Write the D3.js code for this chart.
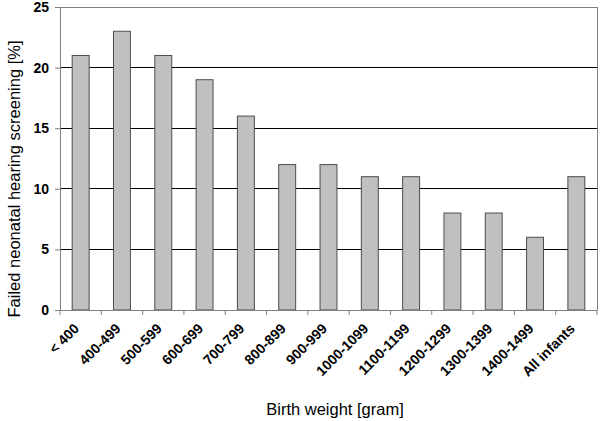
<!DOCTYPE html>
<html><head><meta charset="utf-8">
<script src="https://cdn.jsdelivr.net/npm/d3@7"></script>
<style>body{margin:0;background:#fff}svg{display:block}</style>
</head><body>
<svg id="c" width="600" height="421"></svg>
<script>
const categories = ["< 400","400-499","500-599","600-699","700-799","800-899","900-999","1000-1099","1100-1199","1200-1299","1300-1399","1400-1499","All infants"];
const values = [21,23,21,19,16,12,12,11,11,8,8,6,11];
const yTicks = [0,5,10,15,20,25];

const svg = d3.select("#c");
const L = 60, R = 597, T = 7, B = 310;
const x = d3.scaleBand().domain(categories).range([L, R]).paddingInner(0.59).paddingOuter(0.295);
const xc = d3.scaleBand().domain(categories).range([L, R]);
const y = d3.scaleLinear().domain([0,25]).range([B, T]);
const font = "Arial, 'Liberation Sans', sans-serif";

// gridlines
svg.append("g").selectAll("line").data(yTicks.filter(d=>d>0)).join("line")
  .attr("x1", L).attr("x2", R).attr("y1", d=>y(d)).attr("y2", d=>y(d))
  .attr("stroke", d=> d===25 ? "#808080" : "#000").attr("stroke-width", 1).attr("shape-rendering","crispEdges");
// right border
svg.append("line").attr("x1",R).attr("x2",R).attr("y1",T).attr("y2",B).attr("stroke","#808080").attr("shape-rendering","crispEdges");

// bars
svg.append("g").selectAll("rect").data(values).join("rect")
  .attr("x", (d,i)=>x(categories[i])).attr("width", x.bandwidth())
  .attr("y", d=>y(d)).attr("height", d=>B - y(d))
  .attr("fill", "#c0c0c0").attr("stroke", "#4d4d4d").attr("stroke-width", 1);

// y axis
const ya = svg.append("g").attr("transform", `translate(${L},0)`)
  .call(d3.axisLeft(y).tickValues(yTicks).tickSize(5).tickPadding(6));
ya.select(".domain").attr("stroke","#808080");
ya.selectAll(".tick line").attr("stroke","#808080");
ya.selectAll("text").attr("font-family", font).attr("font-size", 14).attr("font-weight","bold").attr("fill","#000");

// x axis (ticks at category boundaries)
const xa = svg.append("g").attr("transform", `translate(0,${B})`);
xa.append("line").attr("x1",L).attr("x2",R).attr("stroke","#808080").attr("shape-rendering","crispEdges");
const bounds = categories.map(c=>xc(c)).concat([R]);
xa.selectAll("line.tk").data(bounds).join("line").attr("class","tk")
  .attr("x1", d=>d).attr("x2", d=>d).attr("y1",0).attr("y2",5).attr("stroke","#808080");
xa.selectAll("text").data(categories).join("text")
  .attr("transform", d=>`translate(${xc(d)+xc.bandwidth()/2-4},${16}) rotate(-45)`)
  .attr("text-anchor","end").attr("dy","0.35em")
  .attr("font-family", font).attr("font-size", 14).attr("font-weight","bold").attr("fill","#000")
  .text(d=>d);

// titles
svg.append("text").attr("x", 335).attr("y", 415).attr("text-anchor","middle")
  .attr("font-family", font).attr("font-size", 16.5).text("Birth weight [gram]");
svg.append("text").attr("transform", `translate(14,179) rotate(-90)`).attr("text-anchor","middle")
  .attr("dy","0.35em").attr("font-family", font).attr("font-size", 16.5).text("Failed neonatal hearing screening [%]");
</script>
</body></html>
